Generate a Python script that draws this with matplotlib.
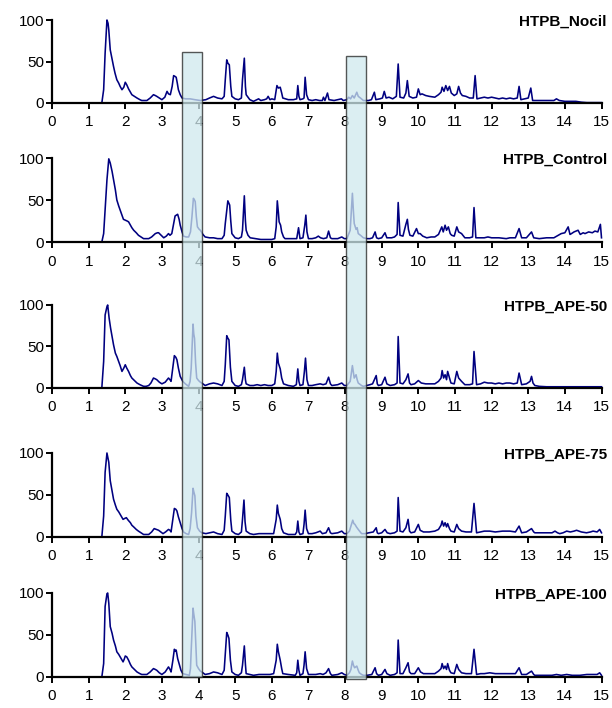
import numpy as np
import matplotlib
matplotlib.use("Agg")
import matplotlib.pyplot as plt
import matplotlib.transforms as mtransforms
from matplotlib.patches import Rectangle

plt.rcParams['font.family'] = ['Liberation Sans', 'DejaVu Sans']

# traces: (retention time, relative intensity)
nocil_pts = [
    (0, 0), (1.36, 0), (1.41, 16), (1.45, 60), (1.50, 100), (1.53, 96), (1.55, 88), (1.59, 64),
    (1.63, 55), (1.68, 44), (1.72, 36), (1.77, 28), (1.82, 24), (1.86, 20), (1.91, 16), (1.96, 19),
    (2.00, 25), (2.04, 22), (2.09, 17), (2.14, 13), (2.18, 10), (2.25, 8), (2.32, 6), (2.40, 4),
    (2.45, 3), (2.52, 3), (2.59, 3), (2.68, 6), (2.77, 10), (2.82, 9), (2.86, 8), (2.93, 6),
    (3.00, 4), (3.08, 7), (3.14, 14), (3.18, 11), (3.23, 10), (3.28, 20), (3.32, 33), (3.36, 32),
    (3.39, 31), (3.42, 24), (3.45, 16), (3.50, 10), (3.55, 6), (3.65, 5), (3.77, 5), (3.90, 4),
    (4.05, 3), (4.20, 4), (4.30, 6), (4.41, 8), (4.52, 6), (4.64, 5), (4.70, 8), (4.73, 28),
    (4.77, 52), (4.80, 48), (4.84, 46), (4.88, 20), (4.91, 8), (5.00, 5), (5.09, 4), (5.17, 6),
    (5.20, 28), (5.25, 54), (5.28, 20), (5.30, 10), (5.40, 4), (5.50, 2), (5.64, 5), (5.70, 3),
    (5.80, 4), (5.86, 5), (5.90, 8), (5.95, 4), (6.00, 5), (6.08, 4), (6.14, 21), (6.18, 18),
    (6.23, 19), (6.27, 12), (6.30, 6), (6.45, 4), (6.59, 4), (6.68, 5), (6.71, 21), (6.74, 8),
    (6.77, 4), (6.85, 5), (6.88, 6), (6.91, 31), (6.95, 10), (7.00, 4), (7.10, 3), (7.20, 4),
    (7.30, 3), (7.38, 3), (7.41, 7), (7.45, 3), (7.52, 12), (7.56, 4), (7.70, 3), (7.80, 4),
    (7.90, 5), (7.95, 3), (8.05, 4), (8.10, 7), (8.15, 5), (8.20, 9), (8.25, 6), (8.32, 13),
    (8.36, 8), (8.42, 6), (8.50, 3), (8.64, 3), (8.72, 4), (8.80, 13), (8.84, 4), (8.95, 5),
    (9.02, 6), (9.07, 14), (9.12, 6), (9.20, 7), (9.30, 5), (9.40, 8), (9.45, 47), (9.50, 7),
    (9.60, 6), (9.66, 12), (9.70, 27), (9.75, 8), (9.85, 6), (9.95, 7), (10.00, 17), (10.05, 10),
    (10.10, 11), (10.20, 9), (10.30, 8), (10.45, 7), (10.55, 10), (10.62, 13), (10.65, 19),
    (10.70, 14), (10.75, 21), (10.80, 15), (10.85, 20), (10.90, 12), (10.98, 9), (11.05, 11),
    (11.10, 20), (11.15, 12), (11.20, 9), (11.30, 8), (11.40, 6), (11.50, 6), (11.55, 33),
    (11.60, 5), (11.70, 6), (11.80, 7), (11.90, 6), (12.00, 7), (12.10, 6), (12.20, 5), (12.30, 6),
    (12.40, 5), (12.50, 6), (12.60, 5), (12.70, 6), (12.75, 20), (12.80, 4), (12.90, 5),
    (13.00, 6), (13.07, 18), (13.12, 3), (13.25, 3), (13.40, 3), (13.55, 3), (13.70, 3),
    (13.77, 5), (13.85, 3), (14.00, 2), (14.30, 2), (14.45, 1), (14.60, 0.5), (15.00, 0.5),
]

control_pts = [
    (0, 0), (1.36, 0), (1.41, 10), (1.45, 38), (1.50, 74), (1.55, 99), (1.59, 94), (1.64, 84),
    (1.68, 74), (1.73, 62), (1.77, 50), (1.82, 43), (1.86, 38), (1.91, 32), (1.95, 27), (2.00, 26),
    (2.05, 25), (2.09, 24), (2.14, 20), (2.18, 17), (2.23, 14), (2.30, 11), (2.36, 8), (2.43, 6),
    (2.50, 4), (2.57, 4), (2.64, 4), (2.72, 6), (2.82, 10), (2.88, 11), (2.91, 11), (2.98, 8),
    (3.05, 5), (3.12, 7), (3.18, 10), (3.22, 8), (3.27, 10), (3.32, 22), (3.36, 31), (3.43, 33),
    (3.47, 27), (3.50, 20), (3.55, 12), (3.59, 7), (3.66, 6), (3.73, 6), (3.78, 12), (3.82, 30),
    (3.86, 52), (3.89, 50), (3.91, 48), (3.94, 30), (3.97, 18), (4.02, 15), (4.05, 14), (4.12, 9),
    (4.18, 6), (4.30, 5), (4.41, 5), (4.52, 4), (4.64, 4), (4.70, 8), (4.73, 22), (4.80, 49),
    (4.85, 44), (4.88, 25), (4.91, 10), (5.00, 5), (5.09, 4), (5.17, 6), (5.20, 14), (5.25, 55),
    (5.28, 25), (5.30, 14), (5.35, 8), (5.41, 5), (5.55, 4), (5.70, 3), (5.85, 3), (6.00, 3),
    (6.08, 4), (6.12, 18), (6.15, 49), (6.18, 35), (6.20, 24), (6.24, 20), (6.27, 12), (6.32, 6),
    (6.36, 4), (6.50, 4), (6.68, 4), (6.73, 17), (6.77, 4), (6.85, 5), (6.90, 20), (6.93, 32),
    (6.96, 12), (7.00, 4), (7.10, 4), (7.20, 5), (7.27, 7), (7.33, 5), (7.41, 4), (7.50, 5),
    (7.55, 13), (7.60, 5), (7.64, 4), (7.80, 4), (7.91, 6), (7.98, 4), (8.05, 4), (8.14, 14),
    (8.20, 58), (8.23, 35), (8.25, 22), (8.30, 15), (8.33, 17), (8.36, 10), (8.42, 8), (8.50, 5),
    (8.60, 4), (8.68, 4), (8.75, 5), (8.82, 12), (8.86, 5), (8.91, 4), (9.00, 5), (9.09, 11),
    (9.14, 5), (9.27, 5), (9.35, 6), (9.42, 9), (9.45, 47), (9.50, 8), (9.58, 7), (9.66, 21),
    (9.70, 27), (9.73, 15), (9.77, 8), (9.85, 7), (9.95, 16), (10.00, 10), (10.05, 10),
    (10.12, 7), (10.23, 5), (10.35, 6), (10.45, 6), (10.55, 9), (10.64, 18), (10.68, 12),
    (10.73, 20), (10.77, 14), (10.82, 18), (10.87, 10), (10.91, 8), (10.98, 7), (11.05, 18),
    (11.10, 12), (11.18, 10), (11.27, 5), (11.40, 5), (11.48, 6), (11.52, 41), (11.57, 5),
    (11.70, 5), (11.80, 5), (11.90, 6), (12.00, 5), (12.20, 5), (12.40, 4), (12.50, 5),
    (12.65, 5), (12.75, 16), (12.82, 5), (12.95, 5), (13.09, 12), (13.15, 5), (13.30, 4),
    (13.50, 5), (13.70, 5), (13.90, 10), (14.00, 11), (14.09, 18), (14.14, 9), (14.18, 10),
    (14.25, 12), (14.36, 14), (14.42, 9), (14.50, 11), (14.55, 10), (14.65, 12), (14.75, 11),
    (14.82, 13), (14.90, 12), (14.97, 21), (15.00, 5),
]

ape50_pts = [
    (0, 0), (1.36, 0), (1.41, 32), (1.45, 88), (1.50, 98), (1.52, 100), (1.56, 84), (1.60, 72),
    (1.64, 62), (1.68, 52), (1.73, 42), (1.77, 38), (1.82, 32), (1.86, 27), (1.91, 20), (1.96, 24),
    (2.00, 28), (2.04, 24), (2.09, 20), (2.14, 15), (2.18, 12), (2.25, 9), (2.32, 6), (2.40, 4),
    (2.50, 2), (2.57, 2), (2.64, 3), (2.70, 6), (2.77, 12), (2.82, 11), (2.86, 10), (2.93, 7),
    (3.00, 5), (3.09, 7), (3.18, 12), (3.22, 10), (3.25, 8), (3.30, 25), (3.34, 39), (3.38, 37),
    (3.41, 34), (3.45, 24), (3.50, 14), (3.57, 8), (3.64, 5), (3.73, 2), (3.77, 8), (3.80, 24),
    (3.85, 77), (3.87, 65), (3.89, 60), (3.92, 30), (3.95, 12), (4.00, 9), (4.05, 7), (4.12, 5),
    (4.18, 3), (4.30, 5), (4.41, 6), (4.52, 5), (4.64, 3), (4.70, 8), (4.73, 28), (4.77, 63),
    (4.80, 60), (4.83, 58), (4.87, 25), (4.91, 8), (5.00, 3), (5.09, 2), (5.17, 4), (5.20, 10),
    (5.25, 25), (5.28, 10), (5.30, 5), (5.40, 3), (5.50, 3), (5.60, 4), (5.70, 3), (5.80, 4),
    (5.90, 3), (6.00, 3), (6.08, 5), (6.12, 20), (6.15, 42), (6.18, 30), (6.23, 23), (6.27, 12),
    (6.32, 5), (6.45, 3), (6.59, 2), (6.67, 4), (6.71, 23), (6.74, 8), (6.77, 3), (6.85, 4),
    (6.89, 20), (6.92, 36), (6.96, 10), (7.00, 3), (7.10, 3), (7.20, 4), (7.32, 5), (7.40, 4),
    (7.48, 5), (7.55, 13), (7.60, 5), (7.64, 3), (7.80, 4), (7.91, 6), (7.98, 3), (8.05, 3),
    (8.14, 8), (8.20, 27), (8.23, 18), (8.25, 12), (8.30, 16), (8.33, 10), (8.36, 6), (8.45, 3),
    (8.50, 2), (8.68, 4), (8.75, 5), (8.85, 15), (8.88, 5), (8.91, 3), (9.00, 4), (9.09, 13),
    (9.14, 5), (9.23, 3), (9.35, 4), (9.42, 6), (9.45, 62), (9.50, 6), (9.58, 5), (9.66, 10),
    (9.72, 17), (9.76, 6), (9.80, 4), (9.90, 5), (10.00, 9), (10.08, 6), (10.20, 5), (10.30, 5),
    (10.45, 5), (10.55, 8), (10.62, 12), (10.65, 21), (10.69, 12), (10.73, 16), (10.77, 10),
    (10.80, 20), (10.85, 12), (10.89, 6), (10.98, 5), (11.05, 20), (11.10, 12), (11.18, 8),
    (11.27, 4), (11.40, 4), (11.48, 5), (11.52, 44), (11.59, 4), (11.70, 5), (11.80, 7),
    (11.90, 6), (12.00, 6), (12.10, 5), (12.20, 6), (12.30, 5), (12.40, 6), (12.50, 6),
    (12.60, 5), (12.70, 6), (12.75, 18), (12.82, 4), (12.95, 5), (13.05, 8), (13.09, 14),
    (13.13, 6), (13.18, 3), (13.30, 2), (13.50, 1.5), (14.00, 1.5), (14.50, 1.5), (15.00, 1.5),
]

ape75_pts = [
    (0, 0), (1.36, 0), (1.41, 25), (1.45, 77), (1.50, 100), (1.55, 89), (1.59, 67), (1.64, 55),
    (1.68, 45), (1.73, 38), (1.77, 33), (1.82, 30), (1.86, 27), (1.90, 24), (1.94, 21), (1.98, 22),
    (2.03, 23), (2.08, 20), (2.14, 17), (2.18, 14), (2.23, 12), (2.30, 9), (2.36, 7), (2.43, 5),
    (2.50, 3), (2.57, 3), (2.64, 3), (2.72, 6), (2.79, 10), (2.85, 9), (2.91, 8), (2.97, 6),
    (3.03, 4), (3.10, 6), (3.18, 9), (3.22, 8), (3.25, 6), (3.30, 22), (3.34, 34), (3.38, 33),
    (3.41, 31), (3.45, 24), (3.50, 17), (3.55, 10), (3.59, 6), (3.66, 4), (3.73, 3), (3.77, 10),
    (3.81, 29), (3.85, 58), (3.87, 54), (3.90, 49), (3.93, 25), (3.97, 11), (4.03, 7), (4.09, 5),
    (4.20, 4), (4.30, 5), (4.41, 6), (4.52, 4), (4.64, 3), (4.70, 8), (4.73, 25), (4.77, 52),
    (4.80, 50), (4.84, 47), (4.88, 20), (4.91, 7), (5.00, 4), (5.09, 3), (5.17, 6), (5.20, 21),
    (5.24, 44), (5.27, 18), (5.30, 7), (5.40, 4), (5.50, 3), (5.65, 4), (5.80, 4), (5.95, 4),
    (6.05, 4), (6.12, 21), (6.15, 38), (6.18, 28), (6.23, 21), (6.27, 10), (6.32, 5), (6.45, 3),
    (6.64, 3), (6.68, 6), (6.71, 19), (6.74, 6), (6.77, 3), (6.85, 4), (6.88, 15), (6.91, 32),
    (6.95, 10), (7.00, 4), (7.10, 4), (7.20, 5), (7.32, 7), (7.38, 4), (7.48, 5), (7.55, 11),
    (7.60, 5), (7.64, 4), (7.80, 5), (7.91, 7), (7.98, 4), (8.05, 4), (8.12, 7), (8.16, 13),
    (8.21, 20), (8.24, 16), (8.27, 15), (8.31, 12), (8.36, 9), (8.45, 4), (8.55, 4), (8.65, 5),
    (8.77, 6), (8.85, 11), (8.88, 5), (8.91, 4), (9.00, 5), (9.09, 9), (9.15, 5), (9.23, 4),
    (9.35, 5), (9.42, 7), (9.45, 47), (9.50, 7), (9.58, 6), (9.66, 11), (9.72, 21), (9.76, 7),
    (9.80, 5), (9.90, 6), (10.00, 15), (10.05, 8), (10.14, 6), (10.30, 6), (10.45, 7),
    (10.55, 9), (10.62, 14), (10.65, 19), (10.69, 13), (10.73, 17), (10.77, 12), (10.80, 16),
    (10.85, 10), (10.89, 7), (10.98, 6), (11.05, 15), (11.10, 10), (11.18, 7), (11.30, 6),
    (11.45, 6), (11.52, 40), (11.59, 5), (11.70, 6), (11.80, 7), (11.95, 7), (12.10, 6),
    (12.30, 7), (12.50, 7), (12.65, 6), (12.75, 13), (12.82, 5), (12.95, 6), (13.09, 10),
    (13.15, 6), (13.18, 5), (13.35, 5), (13.50, 5), (13.65, 5), (13.73, 7), (13.80, 5),
    (13.86, 4), (13.95, 5), (14.05, 7), (14.15, 6), (14.25, 7), (14.32, 8), (14.45, 6),
    (14.59, 5), (14.70, 6), (14.77, 7), (14.88, 6), (14.95, 9), (15.00, 5),
]

ape100_pts = [
    (0, 0), (1.36, 0), (1.41, 16), (1.45, 84), (1.50, 99), (1.52, 100), (1.55, 88), (1.59, 60),
    (1.64, 52), (1.68, 44), (1.73, 37), (1.77, 30), (1.82, 27), (1.86, 24), (1.90, 21), (1.94, 18),
    (1.97, 21), (2.00, 25), (2.04, 24), (2.09, 20), (2.14, 15), (2.18, 12), (2.25, 9), (2.32, 6),
    (2.40, 4), (2.45, 3), (2.52, 3), (2.59, 3), (2.68, 6), (2.77, 10), (2.82, 9), (2.86, 8),
    (2.93, 5), (3.00, 3), (3.09, 6), (3.18, 12), (3.22, 9), (3.25, 6), (3.30, 20), (3.34, 33),
    (3.37, 31), (3.39, 32), (3.43, 22), (3.48, 14), (3.52, 8), (3.57, 4), (3.66, 3), (3.75, 2),
    (3.78, 10), (3.80, 32), (3.85, 82), (3.87, 75), (3.90, 66), (3.93, 35), (3.95, 14), (4.00, 10),
    (4.05, 7), (4.12, 5), (4.18, 3), (4.30, 4), (4.41, 6), (4.52, 5), (4.64, 3), (4.70, 8),
    (4.73, 28), (4.77, 53), (4.80, 50), (4.83, 46), (4.87, 20), (4.91, 6), (5.00, 3), (5.09, 2),
    (5.17, 5), (5.20, 14), (5.25, 37), (5.28, 15), (5.30, 4), (5.40, 3), (5.50, 2), (5.65, 3),
    (5.80, 3), (5.95, 3), (6.05, 4), (6.12, 20), (6.15, 39), (6.18, 30), (6.23, 20), (6.27, 10),
    (6.30, 4), (6.45, 3), (6.64, 2), (6.68, 5), (6.71, 20), (6.74, 8), (6.77, 2), (6.85, 4),
    (6.88, 14), (6.91, 30), (6.95, 10), (7.00, 3), (7.10, 3), (7.20, 3), (7.32, 4), (7.40, 3),
    (7.48, 5), (7.55, 10), (7.60, 4), (7.64, 2), (7.80, 3), (7.91, 5), (7.98, 3), (8.05, 2),
    (8.12, 5), (8.16, 9), (8.20, 19), (8.23, 14), (8.26, 11), (8.32, 13), (8.36, 8), (8.39, 5),
    (8.45, 3), (8.50, 2), (8.60, 2), (8.73, 3), (8.82, 11), (8.86, 4), (8.91, 2), (9.00, 3),
    (9.09, 9), (9.14, 4), (9.23, 2), (9.35, 3), (9.42, 5), (9.45, 44), (9.50, 4), (9.58, 4),
    (9.66, 11), (9.72, 17), (9.76, 6), (9.80, 4), (9.90, 4), (10.00, 11), (10.06, 6), (10.14, 4),
    (10.30, 4), (10.45, 4), (10.55, 7), (10.62, 10), (10.65, 16), (10.69, 10), (10.73, 13),
    (10.77, 9), (10.80, 16), (10.85, 8), (10.89, 5), (10.98, 4), (11.05, 15), (11.10, 9),
    (11.18, 5), (11.30, 4), (11.45, 4), (11.52, 33), (11.59, 3), (11.70, 4), (11.80, 4),
    (11.95, 5), (12.10, 4), (12.30, 4), (12.50, 4), (12.65, 4), (12.75, 11), (12.82, 3),
    (12.95, 3), (13.09, 7), (13.15, 3), (13.18, 2), (13.35, 2), (13.50, 2), (13.65, 2),
    (13.77, 3), (13.90, 2), (14.05, 3), (14.20, 2), (14.41, 2), (14.60, 3), (14.77, 3),
    (14.88, 3), (14.95, 5), (15.00, 2),
]

sample_names = ['HTPB_Nocil', 'HTPB_Control', 'HTPB_APE-50', 'HTPB_APE-75', 'HTPB_APE-100']
traces = [nocil_pts, control_pts, ape50_pts, ape75_pts, ape100_pts]

# highlighted retention windows (minutes)
windows = [(3.55, 4.10), (8.02, 8.56)]

W, H = 612, 708
fig = plt.figure(figsize=(W / 100, H / 100), dpi=100)

# panel tops / bottoms in pixels
tops = [20, 158, 305, 453, 593]
bottoms = [103, 242, 388, 537, 677]
x0, x1 = 52, 601.5

axes = []
for name, pts, top, bot in zip(sample_names, traces, tops, bottoms):
    ax = fig.add_axes([x0 / W, 1 - bot / H, (x1 - x0) / W, (bot - top) / H])
    arr = np.array(pts, dtype=float)
    ax.plot(arr[:, 0], arr[:, 1], color='#000080', lw=1.15, clip_on=False)
    ax.set_xlim(0, 15)
    ax.set_ylim(0, 100)
    ax.set_xticks(range(16))
    ax.set_yticks([0, 50, 100])
    for s in ['top', 'right']:
        ax.spines[s].set_visible(False)
    for s in ['left', 'bottom']:
        ax.spines[s].set_linewidth(1.6)
    ax.tick_params(axis='both', direction='out', length=4, width=1.4, labelsize=11)
    ax.tick_params(axis='x', pad=5)
    ax.tick_params(axis='y', pad=1.5)
    ax.text(15.15, 98, name, ha='right', va='center', fontsize=11,
            fontweight='bold', clip_on=False)
    ax.set_facecolor('none')
    axes.append(ax)

# shaded windows spanning all panels
trans = mtransforms.blended_transform_factory(axes[0].transData, fig.transFigure)
win_tops = [52, 56]
win_bots = [677, 679]
for (a, b), t, bt in zip(windows, win_tops, win_bots):
    r = Rectangle((a, 1 - bt / H), b - a, (bt - t) / H, transform=trans,
                  facecolor='#cfe9ee', alpha=0.75, edgecolor='#202020', lw=1.0, zorder=5)
    fig.add_artist(r)

fig.savefig('out.png', dpi=100)
